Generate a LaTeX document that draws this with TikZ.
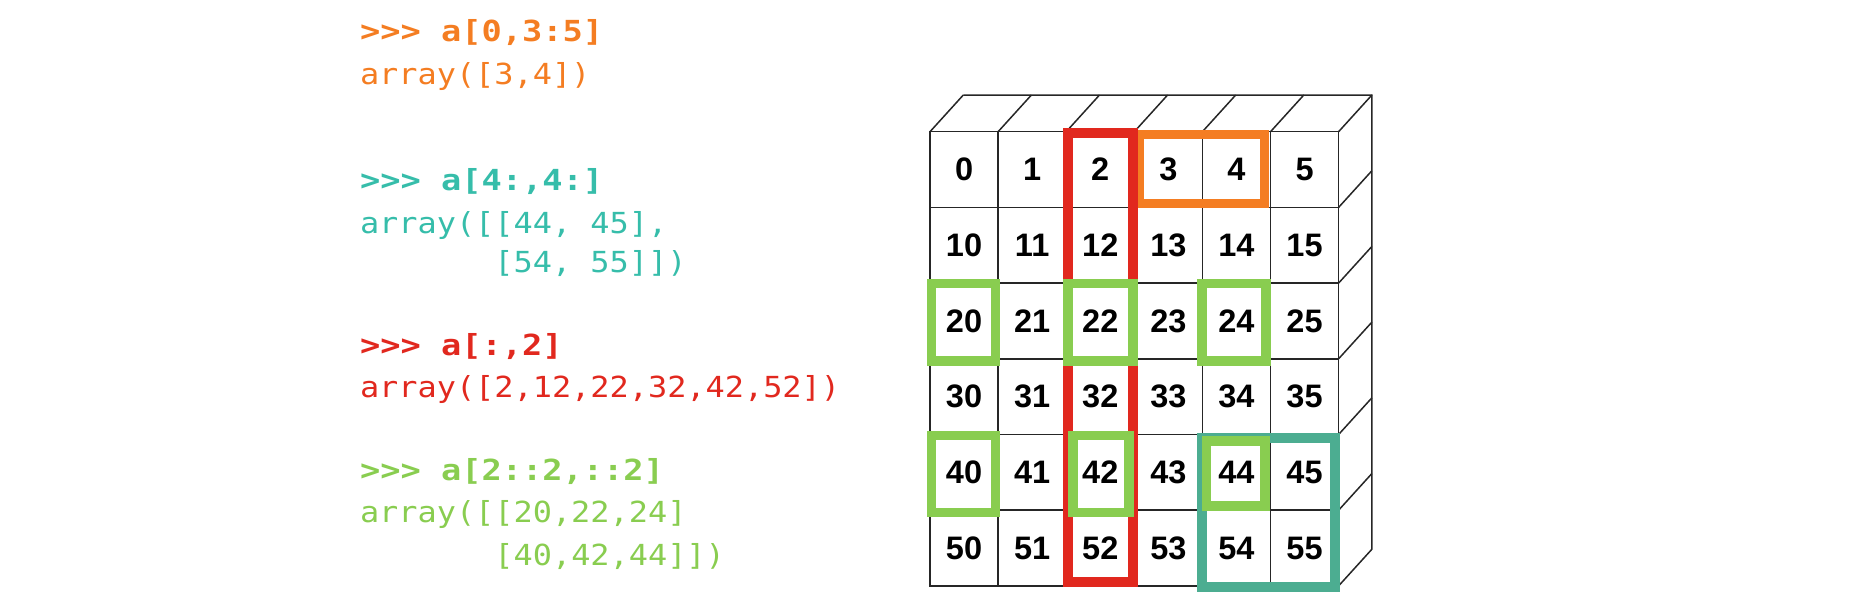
\documentclass[tikz,border=0pt]{standalone}
\usepackage{fontspec}
\setmainfont{Liberation Sans}
\setsansfont{Liberation Sans}
\newfontfamily\codefont[FakeStretch=1.10]{DejaVu Sans Mono}
\newfontfamily\codeboldfont[FakeStretch=1.16]{DejaVu Sans Mono}
\definecolor{cOrange}{RGB}{244,125,34}
\definecolor{cTealText}{RGB}{54,189,170}
\definecolor{cTealBox}{RGB}{76,173,145}
\definecolor{cRed}{RGB}{225,40,30}
\definecolor{cGreen}{RGB}{137,205,80}
\begin{document}
\begin{tikzpicture}[x=1pt,y=-1pt,
  cell/.style={draw=black!85, line width=1.5pt, minimum width=68.1pt, minimum height=75.7pt,
    inner sep=0pt, outer sep=0pt, font=\sffamily\bfseries\fontsize{32.5}{32}\selectfont},
  edgeline/.style={draw=black!85, line width=1.5pt},
  code/.style={anchor=base west, inner sep=0pt, outer sep=0pt, font=\codefont\fontsize{29}{36}\selectfont},
  prompt/.style={code, font=\codeboldfont\bfseries\fontsize{29}{36}\selectfont},
  boxorange/.style={draw=cOrange, line width=9pt},
  boxred/.style={draw=cRed, line width=10pt},
  boxteal/.style={draw=cTealBox, line width=10pt},
  boxgreen/.style={draw=cGreen, line width=9.5pt}
]
\useasboundingbox (0,0) rectangle (1852,600);

% code text
\node[prompt, text=cOrange] (t1) at (360,41.5) {>>> a[0,3:5]};
\node[code, text=cOrange] (t2) at (360,84) {array([3,4])};
\node[prompt, text=cTealText] (t3) at (360,190.5) {>>> a[4:,4:]};
\node[code, text=cTealText] (t4) at (360,233.5) {array([[44, 45],};
\node[code, text=cTealText] (t5) at (360,272) {\phantom{array([}[54, 55]])};
\node[prompt, text=cRed] (t6) at (360,355) {>>> a[:,2]};
\node[code, text=cRed] (t7) at (360,397) {array([2,12,22,32,42,52])};
\node[prompt, text=cGreen] (t8) at (360,480.5) {>>> a[2::2,::2]};
\node[code, text=cGreen] (t9) at (360,522) {array([[20,22,24]};
\node[code, text=cGreen] (t10) at (360,565) {\phantom{array([}[40,42,44]])};

% grid cells
\foreach \r in {0,...,5} {
  \foreach \c in {0,...,5} {
    \pgfmathtruncatemacro\v{10*\r+\c}
    \node[cell] (c\r\c) at ({964.05+68.1*\c},{169.55+75.7*\r}) {\v};
  }
}

% 3D edges
\foreach \c in {0,...,5} {
  \draw[edgeline] (c0\c.north west) -- ++(33.3,-36.7);
}
\foreach \r in {0,...,5} {
  \draw[edgeline] (c\r5.north east) -- ++(33.3,-36.7);
}
\draw[edgeline] ([shift={(33.3,-36.7)}]c00.north west) -- ([shift={(33.3,-36.7)}]c05.north east)
  -- ([shift={(33.3,-36.7)}]c55.south east) -- (c55.south east);

% highlights
\draw[boxorange] ([shift={(5,3)}]c03.north west) rectangle ([shift={(-6,-4)}]c04.south east);
\draw[boxred] ([shift={(2,1.6)}]c02.north west) rectangle ([shift={(-1,-4)}]c52.south east);
\draw[boxteal] ([shift={(-0.4,3.2)}]c44.north west) rectangle ([shift={(-3.9,1.1)}]c55.south east);
\draw[boxgreen] ([shift={(1.5,0.4)}]c20.north west) rectangle ([shift={(-2.6,2.2)}]c20.south east);
\draw[boxgreen] ([shift={(2,0.4)}]c22.north west) rectangle ([shift={(-1.3,2.2)}]c22.south east);
\draw[boxgreen] ([shift={(-0.2,0.4)}]c24.north west) rectangle ([shift={(-4.3,2.2)}]c24.south east);
\draw[boxgreen] ([shift={(1.5,0.8)}]c40.north west) rectangle ([shift={(-2.6,2.2)}]c40.south east);
\draw[boxgreen] ([shift={(6.6,0.8)}]c42.north west) rectangle ([shift={(-5.3,2.1)}]c42.south east);
\draw[boxgreen] ([shift={(4.3,6.5)}]c44.north west) rectangle ([shift={(-5.5,-4.2)}]c44.south east);
\end{tikzpicture}
\end{document}
